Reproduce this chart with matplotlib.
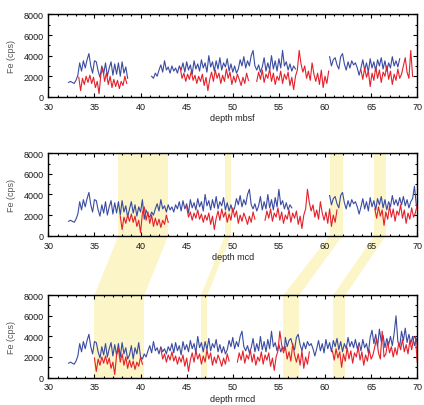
import numpy as np
import matplotlib
matplotlib.use('Agg')
import matplotlib.pyplot as plt
from matplotlib.patches import Polygon
from matplotlib.ticker import MultipleLocator

plt.rcParams['font.family'] = ['Liberation Sans', 'DejaVu Sans']

# ---------------- data ----------------
sample_step = 0.2  # m between readings

# Fe (cps), hole drawn in blue, core sections
blue_core1 = [1400, 1500, 1400, 1300, 1600, 2100, 3300, 2500, 3500, 2800, 3600, 4200, 3000,
              2300, 3500, 3400, 2500, 1900, 3000, 2200, 3300, 2000, 2800, 3400, 2100, 3200,
              2200, 3300, 2000, 3400, 2300, 2900, 1800]
blue_core2 = [2000, 1800, 2300, 2000, 2600, 3100, 2400, 3500, 2600, 2900, 2300, 3000, 2500,
              2800, 2300, 3000, 2600, 3300, 2400, 3400, 2600, 3100, 2200, 3500, 2700, 3200,
              2500, 3600, 2800, 3300, 2400, 4000, 2900, 3400, 2500, 3500, 2700, 3800, 2600,
              3300, 2900, 3700, 2500, 3200, 2400, 3000, 2300, 2700, 3600, 3000, 3900, 2800,
              3500, 3000, 4000, 4500, 3000, 2600, 3100, 2400, 2900, 3800, 2500, 3300, 2600,
              4000, 2700, 3500, 2500, 3700, 2800, 4500, 3000, 3400, 2600, 3200, 2500, 3000, 2700]
blue_core3 = [3900, 3000, 3600, 3800, 3100, 2700, 3900, 4200, 3200, 2600, 3400, 2800, 3500,
              3100, 3300, 2800, 2100, 2800, 3600, 2600, 3300, 2400, 3700, 2800, 3400, 2500,
              3600, 3000, 3800, 2700, 3500, 2500, 3300, 2800, 3900, 3000, 3500, 2900, 3700]
blue_fill_mcd_a = [2600, 3300, 2200, 3000, 1900, 2800, 2300, 3500, 1600, 2500]
blue_fill_mcd_b = [3000, 3800, 2900, 3500, 2700, 3300, 3600, 4800, 3000]
blue_fill_rmcd_a = [2200, 3100, 1800, 2900, 2300, 3400]
blue_fill_rmcd_b = [2800, 3400, 2600, 3700, 2900, 3300, 2400, 3900, 4600, 3300, 4200, 3000,
                    4700, 3500, 4100, 2900, 3800, 3200, 4000, 3100, 4300, 6000, 3500, 3000,
                    4500, 3600, 4800, 3400, 4200, 3300, 4000, 3100, 3800, 2800]

# Fe (cps), hole drawn in red, core sections
red_core1 = [1900, 600, 1800, 1200, 2000, 1400, 2100, 1300, 1900, 900, 1500, 300, 2200, 2800,
             1500, 2300, 1200, 2000, 900, 1700, 1000, 1600, 800, 1500, 1100, 2000, 1300]
red_core2 = [2800, 1800, 2300, 1500, 2200, 1700, 2500, 1600, 2100, 1300, 2000, 1500, 2200,
             1100, 1900, 600, 1700, 2400, 1500, 2600, 1800, 2300, 1300, 2100, 1500, 2700,
             1800, 2400, 1200, 2000, 1400, 2200, 1700, 1100, 1900, 1300, 2300, 1600]
red_core3 = [1500, 2400, 1700, 2600, 1400, 2200, 1800, 2700, 1500, 2300, 1200, 2000, 1600,
             2500, 1300, 2200, 1700, 2400, 1100, 1900, 700, 2000, 2600, 4500, 3200, 2400,
             3000, 1800, 2500, 1600, 3300, 2200, 1500, 2300, 1200, 2600, 900, 2000, 1300, 2500]
red_core4 = [2600, 1700, 2800, 1900, 2500, 1000, 2300, 1600, 2900, 1800, 2600, 1400, 2400,
             2000, 3000, 1700, 2500, 1200, 2200, 1600, 2700, 1800, 2200, 3000, 3800, 2400,
             1800, 4500, 2000]
red_fill_rmcd = [2300, 3500, 2400, 3000, 2000, 2900, 2200, 3400, 2700, 3700, 2500, 3200,
                 2300, 3600, 2700, 3800, 4000, 1500]

# top depth (m) of each section on the three depth scales
blue_sections_mbsf = [blue_core1, blue_core2, blue_core3]
blue_tops_mbsf = [32.2, 41.2, 60.5]
blue_sections_mcd = [blue_core1, blue_fill_mcd_a, blue_core2, blue_core3, blue_fill_mcd_b]
blue_tops_mcd = [32.2, 38.8, 40.8, 60.5, 68.3]
blue_sections_rmcd = [blue_core1, blue_fill_rmcd_a, blue_core2, blue_core3, blue_fill_rmcd_b]
blue_tops_rmcd = [32.2, 38.8, 40.0, 55.7, 63.5]

red_sections_mbsf = [red_core1, red_core2, red_core3, red_core4]
red_tops_mbsf = [33.3, 44.3, 52.6, 63.9]
red_sections_mcd = [red_core1, red_core2, red_core3, red_core4]
red_tops_mcd = [37.8, 45.0, 53.5, 65.4]
red_sections_rmcd = [red_core1, red_core2, red_core3, red_core4, red_fill_rmcd]
red_tops_rmcd = [35.0, 42.2, 50.5, 60.8, 66.6]

# tie intervals (m)
ties_mcd_top = [37.6, 49.15, 60.5, 65.35]
ties_mcd_bot = [43.0, 49.8, 61.9, 66.6]
ties_rmcd_top = [35.0, 46.55, 55.5, 60.9]
ties_rmcd_bot = [40.4, 47.25, 57.2, 62.2]

x_labels = ['depth mbsf', 'depth mcd', 'depth rmcd']
y_label = 'Fe (cps)'

# ---------------- style ----------------
BLUE = '#3a4ba2'
RED = '#e5202b'
YELLOW = '#fbf5c8'


def build(sections, tops):
    xs, ys = [], []
    prev_end = None
    for vals, top in sorted(zip(sections, tops), key=lambda p: p[1]):
        d = top + sample_step * np.arange(len(vals))
        if prev_end is not None and top - prev_end > 0.45:
            xs.append(np.nan)
            ys.append(np.nan)
        xs.extend(d)
        ys.extend(vals)
        prev_end = d[-1]
    return np.array(xs), np.array(ys, dtype=float)


fig = plt.figure(figsize=(4.24, 4.06), dpi=100)
left, width = 0.114, 0.870
positions = [0.759, 0.417, 0.0675]
height = 0.203

blue_sets = [(blue_sections_mbsf, blue_tops_mbsf), (blue_sections_mcd, blue_tops_mcd),
             (blue_sections_rmcd, blue_tops_rmcd)]
red_sets = [(red_sections_mbsf, red_tops_mbsf), (red_sections_mcd, red_tops_mcd),
            (red_sections_rmcd, red_tops_rmcd)]
tie_sets = [None, (ties_mcd_top, ties_mcd_bot), (ties_rmcd_top, ties_rmcd_bot)]

axes = []
for i in range(3):
    ax = fig.add_axes([left, positions[i], width, height])
    axes.append(ax)
    if tie_sets[i] is not None:
        for a, b in zip(*tie_sets[i]):
            ax.axvspan(a, b, color=YELLOW, lw=0, zorder=0)
    bx, by = build(*blue_sets[i])
    rx, ry = build(*red_sets[i])
    ax.plot(bx, by, color=BLUE, lw=0.8, zorder=2)
    ax.plot(rx, ry, color=RED, lw=0.8, zorder=3)
    ax.set_xlim(30, 70)
    ax.set_ylim(0, 8000)
    ax.xaxis.set_major_locator(MultipleLocator(5))
    ax.xaxis.set_minor_locator(MultipleLocator(1))
    ax.yaxis.set_major_locator(MultipleLocator(2000))
    ax.yaxis.set_minor_locator(MultipleLocator(1000))
    ax.tick_params(which='both', direction='in', top=True, right=True,
                   labelsize=6.5, labelcolor='#1a1a1a', width=0.8, pad=3.5)
    ax.tick_params(which='major', length=3)
    ax.tick_params(which='minor', length=1.6)
    for s in ax.spines.values():
        s.set_linewidth(1.0)
    ax.set_xlabel(x_labels[i], fontsize=6.5, color='#222222', labelpad=1.5)
    ax.set_ylabel(y_label, fontsize=6.5, color='#555555', labelpad=5)

# connecting tie polygons between mcd and rmcd panels
ax2, ax3 = axes[1], axes[2]
to_fig = fig.transFigure.inverted()
for a, b, c, d in zip(ties_mcd_top, ties_mcd_bot, ties_rmcd_top, ties_rmcd_bot):
    p_a = to_fig.transform(ax2.transData.transform((a, ax2.get_ylim()[0])))
    p_b = to_fig.transform(ax2.transData.transform((b, ax2.get_ylim()[0])))
    p_d = to_fig.transform(ax3.transData.transform((d, ax3.get_ylim()[1])))
    p_c = to_fig.transform(ax3.transData.transform((c, ax3.get_ylim()[1])))
    poly = Polygon([p_a, p_b, p_d, p_c], closed=True, transform=fig.transFigure,
                   facecolor=YELLOW, edgecolor='none', zorder=-1)
    fig.patches.append(poly)

fig.savefig('out.png', dpi=100)
